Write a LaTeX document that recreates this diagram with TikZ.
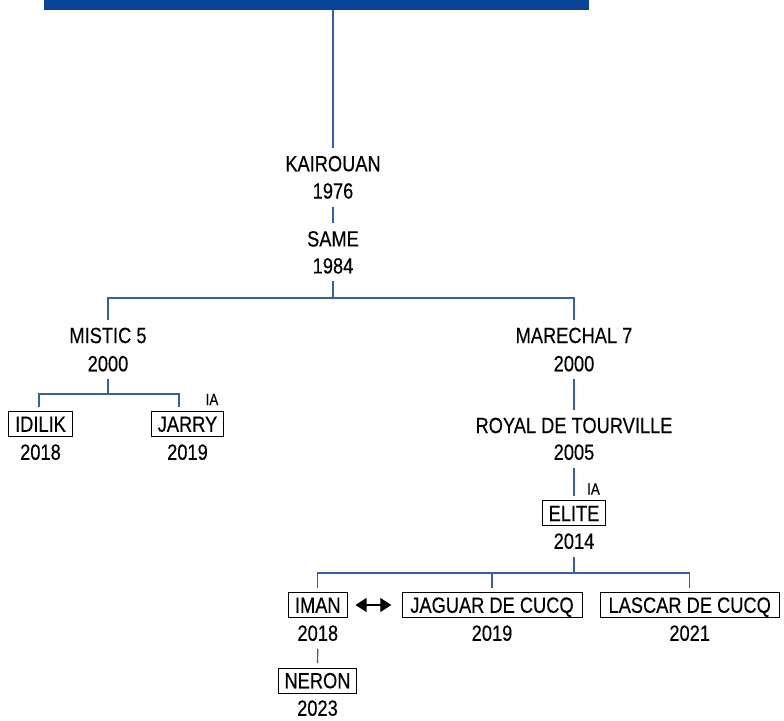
\documentclass[tikz,border=0pt]{standalone}
\usepackage{fontspec}
\setmainfont{Liberation Sans}[FakeStretch=0.83,FakeBold=0.3]
\usetikzlibrary{arrows.meta}
\definecolor{barblue}{RGB}{8,69,153}
\definecolor{linkblue}{RGB}{52,96,170}

\begin{document}
\begin{tikzpicture}[x=1pt,y=-1pt,
    lbl/.style={font=\fontsize{22}{26}\selectfont,text height=15.5pt,text depth=0pt,inner sep=0pt,outer xsep=0pt,outer ysep=8pt},
    yr/.style={lbl},
    namebox/.style={lbl,draw=black,line width=1pt,inner xsep=6.5pt,inner ysep=4.75pt,outer ysep=5pt},
    ia/.style={font=\fontsize{16}{19}\selectfont,inner sep=0pt},
    link/.style={draw=linkblue,line width=1.2pt}]
   \useasboundingbox (0,0) rectangle (784,720);
   \node[fill=barblue,minimum width=545pt,minimum height=9.5pt,inner sep=0pt] (bar) at (316.5,4.75) {};
   \node[lbl] (kair) at (333,163.5) {KAIROUAN};
   \node[yr] (kairy) at (333,190.8) {1976};
   \node[lbl] (same) at (333,238.7) {SAME};
   \node[yr] (samey) at (333,265.7) {1984};
   \node[lbl] (mis) at (108,335.3) {MISTIC 5};
   \node[yr] (misy) at (108,363.5) {2000};
   \node[namebox] (idi) at (40.5,424) {IDILIK};
   \node[yr] (idiy) at (40.5,452) {2018};
   \node[namebox] (jar) at (187.5,424) {JARRY};
   \node[yr] (jary) at (187.5,452) {2019};
   \node[ia] (jaria) at (212,399.5) {IA};
   \node[lbl] (mar) at (574,335.3) {MARECHAL 7};
   \node[yr] (mary) at (574,363.5) {2000};
   \node[lbl] (roy) at (574,425.3) {ROYAL DE TOURVILLE};
   \node[yr] (royy) at (574,452) {2005};
   \node[namebox] (eli) at (574,513.3) {ELITE};
   \node[yr] (eliy) at (574,541) {2014};
   \node[ia] (elia) at (593.5,489) {IA};
   \node[namebox] (ima) at (317.8,605) {IMAN};
   \node[yr] (imay) at (317.8,633) {2018};
   \node[namebox] (ner) at (317.5,680.5) {NERON};
   \node[yr] (nery) at (317.5,708) {2023};
   \node[namebox,minimum width=180pt] (jag) at (492,605) {JAGUAR DE CUCQ};
   \node[yr] (jagy) at (492,633) {2019};
   \node[namebox,minimum width=179pt] (las) at (689.7,605) {LASCAR DE CUCQ};
   \node[yr] (lasy) at (689.7,633) {2021};
   \coordinate (forka) at (333,298);
   \coordinate (forkb) at (108,394);
   \coordinate (forkc) at (574,573);

   \draw[link] (kair.north |- bar.south) -- (kair.north);
   \draw[link] (kairy.south) -- (same.north);
   \draw[link] (samey.south) -- (forka);
   \draw[link] (mis.north) |- (forka) -| (mar.north);
   \draw[link] (misy.south) -- (forkb);
   \draw[link] ([xshift=-1.5pt]idi.north) |- (forkb) -| ([xshift=-8.5pt]jar.north);
   \draw[link] (mary.south) -- (roy.north);
   \draw[link] (royy.south) -- (eli.north);
   \draw[link] (eliy.south) -- (forkc);
   \draw[link] (ima.north) |- (forkc) -| (las.north);
   \draw[link] (jag.north) -- (jag.north |- forkc);
   \draw[link] (imay.south) -- (ner.north);
   \draw[line width=1.2pt,{Triangle[length=11pt,width=14pt]}-{Triangle[length=11pt,width=14pt]},shorten <=8.4pt,shorten >=10.7pt] (ima.east) -- (jag.west);
\end{tikzpicture}
\end{document}
